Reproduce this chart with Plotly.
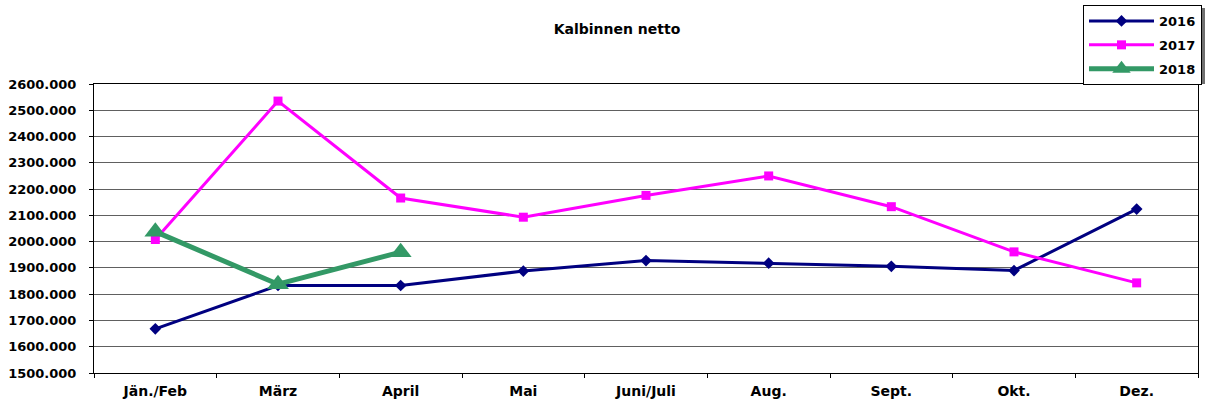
import plotly.graph_objects as go

categories = ["Jän./Feb", "März", "April", "Mai", "Juni/Juli", "Aug.", "Sept.", "Okt.", "Dez."]
values_2016 = [1668, 1833, 1833, 1888, 1928, 1918, 1906, 1890, 2124]
values_2017 = [2008, 2535, 2166, 2093, 2176, 2250, 2133, 1961, 1843]
values_2018 = [2038, 1838, 1960]
y_ticks = list(range(1500, 2700, 100))
y_labels = [f"{v}.000" for v in y_ticks]

font = "DejaVu Sans, Liberation Sans, Arial, sans-serif"

# plot area in page pixels
L, R, T, B = 94, 1198, 84, 373
W, H = 1206, 406


def px(x):
    return (x - L) / (R - L)


def py(y):
    return (B - y) / (B - T)


fig = go.Figure()
fig.add_trace(go.Scatter(x=categories, y=values_2016, name="<b>2016</b>", mode="lines+markers",
                         legendgroup="a",
                         line=dict(color="#000080", width=3),
                         marker=dict(symbol="diamond", size=9, color="#000080")))
fig.add_trace(go.Scatter(x=categories, y=values_2017, name="<b>2017</b>", mode="lines+markers",
                         legendgroup="b",
                         line=dict(color="#FF00FF", width=3),
                         marker=dict(symbol="square", size=9, color="#FF00FF")))
fig.add_trace(go.Scatter(x=categories[:len(values_2018)], y=values_2018, name="<b>2018</b>", mode="lines+markers",
                         legendgroup="c",
                         line=dict(color="#339966", width=5),
                         marker=dict(symbol="triangle-up", size=19, color="#339966")))

fig.update_layout(
    width=W, height=H,
    margin=dict(l=L, r=W - R, t=T, b=H - B, autoexpand=False),
    paper_bgcolor="white", plot_bgcolor="white",
    font=dict(family=font, size=13, color="black"),
    title=dict(text="<b>Kalbinnen netto</b>", x=617 / W, xanchor="center",
               y=1 - 29 / H, yanchor="middle", font=dict(size=14, family=font)),
    showlegend=True,
    legend=dict(x=px(1202), xanchor="right", y=py(5), yanchor="top",
                bordercolor="black", borderwidth=1, bgcolor="white",
                font=dict(size=13, family=font),
                traceorder="grouped", tracegroupgap=4,
                itemwidth=65),
)
fig.update_xaxes(type="category", range=[-0.5, 8.5], showline=True, linecolor="black", linewidth=1,
                 mirror=True, ticks="outside", tickson="boundaries", ticklen=4, tickcolor="black",
                 showgrid=False, tickfont=dict(size=14, family=font),
                 tickvals=categories, ticktext=[f"<b>{c}</b>" for c in categories],
                 ticklabelstandoff=5)
fig.update_yaxes(range=[1500, 2600], tickvals=y_ticks, ticktext=[f"<b>{t}</b>" for t in y_labels],
                 showline=True, linecolor="black", linewidth=1, mirror=True,
                 ticks="outside", ticklen=4, tickcolor="black",
                 showgrid=True, gridcolor="#606060", gridwidth=1, zeroline=False,
                 tickfont=dict(size=13, family=font), ticklabelstandoff=10)

# legend shadow
fig.add_shape(type="rect", xref="paper", yref="paper",
              x0=px(1084), x1=px(1205),
              y0=py(84), y1=py(8),
              fillcolor="#707070", line=dict(width=0), layer="above")

fig.write_html("out.html", config={"displayModeBar": False},
               post_script="document.body.style.margin='0';")
